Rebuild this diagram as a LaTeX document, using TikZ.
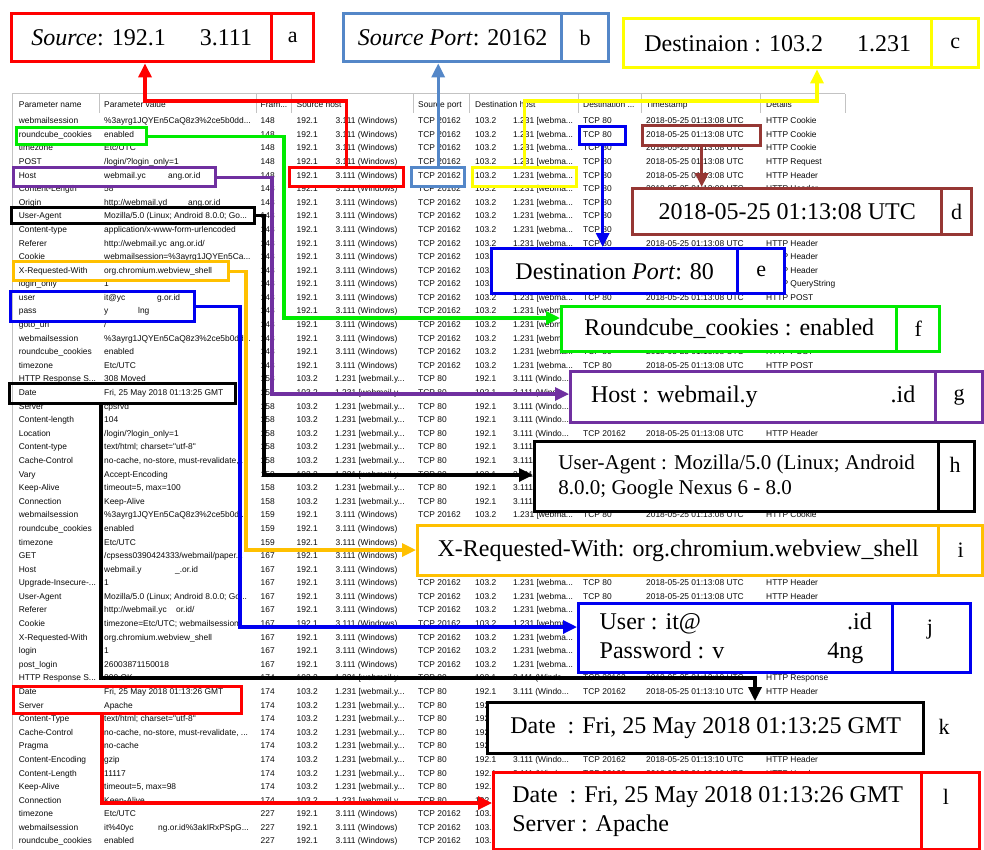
\documentclass[tikz,border=0pt]{standalone}
\usepackage{fontspec}
\setmainfont{Liberation Serif}
\newfontfamily\tabfont{Liberation Sans}
\usetikzlibrary{arrows.meta}
\definecolor{cred}{RGB}{255,0,0}
\definecolor{csteel}{RGB}{84,135,200}
\definecolor{cyel}{RGB}{255,255,0}
\definecolor{cbrown}{RGB}{150,55,52}
\definecolor{cblue}{RGB}{0,0,240}
\definecolor{cgreen}{RGB}{0,235,0}
\definecolor{cpurple}{RGB}{112,48,160}
\definecolor{corange}{RGB}{255,192,0}
\definecolor{tabtext}{RGB}{10,10,10}
\definecolor{gridgray}{RGB}{195,195,195}
\tikzset{
 tc/.style={anchor=base west, inner sep=0pt, font=\tabfont\fontsize{8.4}{9}\selectfont, text=tabtext},
 hl/.style={draw=#1, line width=3.4pt, inner sep=0pt, anchor=north west},
 cbox/.style={draw=#1, line width=3.4pt, fill=white, inner sep=0pt, anchor=north west, font=\fontsize{24}{29}\selectfont},
 lett/.style={inner sep=0pt, font=\fontsize{22}{26}\selectfont},
 conn/.style={draw=#1, line width=3.2pt, -{Triangle[length=14pt,width=13pt]}},
}
\newcommand\TA{2018-05-25 01:13:08 UTC}
\newcommand\TB{2018-05-25 01:13:10 UTC}
\newcommand\RC[6]{%
 \pgfmathsetmacro\yb{123.7+(#1-1)*13.59}
 \node[tc] (pn#1) at (18.7,\yb) {#2};
 \node[tc] (pv#1) at (104,\yb) {#3};
 \node[tc] (fr#1) at (260.5,\yb) {#4};
 \node[tc] (sa#1) at (296.5,\yb) {192.1};
 \node[tc] (sb#1) at (335.5,\yb) {3.111 (Windows)};
 \node[tc] (sp#1) at (418,\yb) {TCP 20162};
 \node[tc] (da#1) at (475,\yb) {103.2};
 \node[tc] (db#1) at (513,\yb) {1.231 [webma...};
 \node[tc] (dp#1) at (583,\yb) {TCP 80};
 \node[tc] (ts#1) at (646,\yb) {#5};
 \node[tc] (dt#1) at (766,\yb) {#6};
}
\newcommand\RS[6]{%
 \pgfmathsetmacro\yb{123.7+(#1-1)*13.59}
 \node[tc] (pn#1) at (18.7,\yb) {#2};
 \node[tc] (pv#1) at (104,\yb) {#3};
 \node[tc] (fr#1) at (260.5,\yb) {#4};
 \node[tc] (sa#1) at (296.5,\yb) {103.2};
 \node[tc] (sb#1) at (335,\yb) {1.231 [webmail.y...};
 \node[tc] (sp#1) at (418,\yb) {TCP 80};
 \node[tc] (da#1) at (475,\yb) {192.1};
 \node[tc] (db#1) at (513,\yb) {3.111 (Windo...};
 \node[tc] (dp#1) at (583,\yb) {TCP 20162};
 \node[tc] (ts#1) at (646,\yb) {#5};
 \node[tc] (dt#1) at (766,\yb) {#6};
}
\newcommand\XT[3]{%
 \pgfmathsetmacro\yb{123.7+(#1-1)*13.59}
 \node[tc] (px#1) at (#2,\yb) {#3};
}
\begin{document}
\begin{tikzpicture}[x=1pt,y=-1pt]
\useasboundingbox[fill=white] (0,0) rectangle (984,849);
% table frame
\draw[gridgray, line width=0.8pt] (12,849) -- (12,93) -- (845,93);
\foreach \sx in {99,256,291,413,469,578,641,760,845}
  \draw[gridgray, line width=0.6pt] (\sx,94) -- (\sx,113);
\node[tc] (h1) at (18.7,107) {Parameter name};
\node[tc] (h2) at (104,107) {Parameter value};
\node[tc] (h3) at (260.5,107) {Fram...};
\node[tc] (h4) at (296.5,107) {Source host};
\node[tc] (h5) at (418,107) {Source port};
\node[tc] (h6) at (475,107) {Destination host};
\node[tc] (h7) at (583,107) {Destination ...};
\node[tc] (h8) at (646,107) {Timestamp};
\node[tc] (h9) at (766,107) {Details};
% rows
\RC{1}{webmailsession}{\%3ayrg1JQYEn5CaQ8z3\%2ce5b0dd...}{148}{\TA}{HTTP Cookie}
\RC{2}{roundcube\_cookies}{enabled}{148}{\TA}{HTTP Cookie}
\RC{3}{timezone}{Etc/UTC}{148}{\TA}{HTTP Cookie}
\RC{4}{POST}{/login/?login\_only=1}{148}{\TA}{HTTP Request}
\RC{5}{Host}{webmail.yc}{148}{\TA}{HTTP Header}
\XT{5}{168}{ang.or.id}
\RC{6}{Content-Length}{58}{148}{\TA}{HTTP Header}
\RC{7}{Origin}{http://webmail.yd}{148}{\TA}{HTTP Header}
\XT{7}{188}{ang.or.id}
\RC{8}{User-Agent}{Mozilla/5.0 (Linux; Android 8.0.0; Go...}{148}{\TA}{HTTP Header}
\RC{9}{Content-type}{application/x-www-form-urlencoded}{148}{\TA}{HTTP Header}
\RC{10}{Referer}{http://webmail.yc}{148}{\TA}{HTTP Header}
\XT{10}{170}{ang.or.id/}
\RC{11}{Cookie}{webmailsession=\%3ayrg1JQYEn5Ca...}{148}{\TA}{HTTP Header}
\RC{12}{X-Requested-With}{org.chromium.webview\_shell}{148}{\TA}{HTTP Header}
\RC{13}{login\_only}{1}{148}{\TA}{HTTP QueryString}
\RC{14}{user}{it@yc}{148}{\TA}{HTTP POST}
\XT{14}{157}{g.or.id}
\RC{15}{pass}{y}{148}{\TA}{HTTP POST}
\XT{15}{138}{lng}
\RC{16}{goto\_uri}{/}{148}{\TA}{HTTP POST}
\RC{17}{webmailsession}{\%3ayrg1JQYEn5CaQ8z3\%2ce5b0dd...}{148}{\TA}{HTTP POST}
\RC{18}{roundcube\_cookies}{enabled}{148}{\TA}{HTTP POST}
\RC{19}{timezone}{Etc/UTC}{148}{\TA}{HTTP POST}
\RS{20}{HTTP Response S...}{308 Moved}{158}{\TA}{HTTP Response}
\RS{21}{Date}{Fri, 25 May 2018 01:13:25 GMT}{158}{\TA}{HTTP Header}
\RS{22}{Server}{cpsrvd}{158}{\TA}{HTTP Header}
\RS{23}{Content-length}{104}{158}{\TA}{HTTP Header}
\RS{24}{Location}{/login/?login\_only=1}{158}{\TA}{HTTP Header}
\RS{25}{Content-type}{text/html; charset="utf-8"}{158}{\TA}{HTTP Header}
\RS{26}{Cache-Control}{no-cache, no-store, must-revalidate,...}{158}{\TA}{HTTP Header}
\RS{27}{Vary}{Accept-Encoding}{158}{\TA}{HTTP Header}
\RS{28}{Keep-Alive}{timeout=5, max=100}{158}{\TA}{HTTP Header}
\RS{29}{Connection}{Keep-Alive}{158}{\TA}{HTTP Header}
\RC{30}{webmailsession}{\%3ayrg1JQYEn5CaQ8z3\%2ce5b0d...}{159}{\TA}{HTTP Cookie}
\RC{31}{roundcube\_cookies}{enabled}{159}{\TA}{HTTP Cookie}
\RC{32}{timezone}{Etc/UTC}{159}{\TA}{HTTP Cookie}
\RC{33}{GET}{/cpsess0390424333/webmail/paper...}{167}{\TA}{HTTP Request}
\RC{34}{Host}{webmail.y}{167}{\TA}{HTTP Header}
\XT{34}{175}{\_.or.id}
\RC{35}{Upgrade-Insecure-...}{1}{167}{\TA}{HTTP Header}
\RC{36}{User-Agent}{Mozilla/5.0 (Linux; Android 8.0.0; Go...}{167}{\TA}{HTTP Header}
\RC{37}{Referer}{http://webmail.yc}{167}{\TA}{HTTP Header}
\XT{37}{176}{or.id/}
\RC{38}{Cookie}{timezone=Etc/UTC; webmailsession...}{167}{\TA}{HTTP Header}
\RC{39}{X-Requested-With}{org.chromium.webview\_shell}{167}{\TA}{HTTP Header}
\RC{40}{login}{1}{167}{\TA}{HTTP Header}
\RC{41}{post\_login}{26003871150018}{167}{\TA}{HTTP Header}
\RS{42}{HTTP Response S...}{200 OK}{174}{\TB}{HTTP Response}
\RS{43}{Date}{Fri, 25 May 2018 01:13:26 GMT}{174}{\TB}{HTTP Header}
\RS{44}{Server}{Apache}{174}{\TB}{HTTP Header}
\RS{45}{Content-Type}{text/html; charset="utf-8"}{174}{\TB}{HTTP Header}
\RS{46}{Cache-Control}{no-cache, no-store, must-revalidate, ...}{174}{\TB}{HTTP Header}
\RS{47}{Pragma}{no-cache}{174}{\TB}{HTTP Header}
\RS{48}{Content-Encoding}{gzip}{174}{\TB}{HTTP Header}
\RS{49}{Content-Length}{11117}{174}{\TB}{HTTP Header}
\RS{50}{Keep-Alive}{timeout=5, max=98}{174}{\TB}{HTTP Header}
\RS{51}{Connection}{Keep-Alive}{174}{\TB}{HTTP Header}
\RC{52}{timezone}{Etc/UTC}{227}{2018-05-25 01:13:16 UTC}{HTTP Cookie}
\RC{53}{webmailsession}{it\%40yc}{227}{2018-05-25 01:13:16 UTC}{HTTP Cookie}
\XT{53}{158}{ng.or.id\%3akIRxPSpG...}
\RC{54}{roundcube\_cookies}{enabled}{227}{2018-05-25 01:13:16 UTC}{HTTP Cookie}
% highlights
\node[hl=cgreen, minimum width=130pt, minimum height=17pt] (hRC) at (15,126) {};
\node[hl=cpurple, minimum width=202pt, minimum height=19pt] (hHO) at (12,166) {};
\node[hl=cred, minimum width=114pt, minimum height=19pt] (hSH) at (288,166) {};
\node[hl=csteel, minimum width=53pt, minimum height=19pt] (hSP) at (410,166) {};
\node[hl=cyel, minimum width=104pt, minimum height=19pt] (hDH) at (471,166) {};
\node[hl=cblue, minimum width=46pt, minimum height=18pt] (hDP) at (578,125) {};
\node[hl=cbrown, minimum width=118pt, minimum height=20pt] (hTS) at (641,124) {};
\node[hl=black, minimum width=243pt, minimum height=16pt] (hUA) at (10,206) {};
\node[hl=corange, minimum width=215pt, minimum height=19pt] (hXR) at (12,260) {};
\node[hl=cblue, minimum width=184pt, minimum height=30pt] (hUP) at (9,290) {};
\node[hl=black, minimum width=226pt, minimum height=20pt] (hD1) at (8,382) {};
\node[hl=cred, minimum width=228pt, minimum height=27pt] (hD2) at (12,685) {};
% callout boxes
\node[cbox=cred, minimum width=260pt, minimum height=48pt] (a) at (10,12) {\textit{Source}: 192.1\hspace{34pt}3.111};
\node[cbox=cred, minimum width=42pt, minimum height=48pt] (aL) at (270,12) {};
\node[lett] (aT) at (aL.center) {a};
\node[cbox=csteel, minimum width=218pt, minimum height=48pt] (b) at (342,12) {\textit{Source Port}: 20162};
\node[cbox=csteel, minimum width=47pt, minimum height=48pt] (bL) at (560,12) {};
\node[lett] (bT) at (bL.center) {b};
\node[cbox=cyel, minimum width=308pt, minimum height=49pt] (c) at (622,17) {Destinaion : 103.2\hspace{34pt}1.231};
\node[cbox=cyel, minimum width=47pt, minimum height=49pt] (cL) at (930,17) {};
\node[lett] (cT) at (cL.center) {c};
\node[cbox=cbrown, minimum width=309pt, minimum height=46pt] (d) at (631,187) {2018-05-25 01:13:08 UTC};
\node[cbox=cbrown, minimum width=30pt, minimum height=46pt] (dL) at (940,187) {};
\node[lett] (dT) at (dL.center) {d};
\node[cbox=cblue, minimum width=246pt, minimum height=45pt] (e) at (490,247) {Destination \textit{Port}: 80};
\node[cbox=cblue, minimum width=47pt, minimum height=45pt] (eL) at (736,247) {};
\node[lett] (eT) at (eL.center) {e};
\node[cbox=cgreen, minimum width=335pt, minimum height=45pt] (f) at (560,305) {Roundcube\_cookies : enabled};
\node[cbox=cgreen, minimum width=43pt, minimum height=45pt] (fL) at (895,305) {};
\node[lett] (fT) at (fL.center) {f};
\node[cbox=cpurple, minimum width=365pt, minimum height=51pt] (g) at (569,370) {Host : webmail.y\hspace{133pt}.id};
\node[cbox=cpurple, minimum width=47pt, minimum height=51pt] (gL) at (934,370) {};
\node[lett] (gT) at (gL.center) {g};
\node[cbox=black, minimum width=404pt, minimum height=70pt, align=left, font=\fontsize{21}{25}\selectfont] (h) at (533,440) {User-Agent : Mozilla/5.0 (Linux; Android\\8.0.0; Google Nexus 6 - 8.0};
\node[cbox=black, minimum width=36pt, minimum height=70pt] (hL) at (937,440) {};
\node[lett] (hT) at (955,465) {h};
\node[cbox=corange, minimum width=521pt, minimum height=50pt] (i) at (416,524) {X-Requested-With: org.chromium.webview\_shell};
\node[cbox=corange, minimum width=44pt, minimum height=50pt] (iL) at (937,524) {};
\node[lett] (iT) at (iL.center) {i};
\node[cbox=cblue, minimum width=314pt, minimum height=69pt, align=left] (j) at (577,602) {User : it@\hspace{146pt}.id\\Password : v\hspace{103pt}4ng};
\node[cbox=cblue, minimum width=78pt, minimum height=69pt] (jL) at (891,602) {};
\node[lett] (jT) at (930,630) {j};
\node[cbox=black, minimum width=436pt, minimum height=51pt] (k) at (486,701) {Date\ \ : Fri, 25 May 2018 01:13:25 GMT};
\node[lett] (kT) at (944,727) {k};
\node[cbox=cred, minimum width=428pt, minimum height=77pt, align=left] (l) at (492,771) {Date\ \ : Fri, 25 May 2018 01:13:26 GMT\\Server : Apache};
\node[cbox=cred, minimum width=58pt, minimum height=77pt] (lL) at (920,771) {};
\node[lett] (lT) at (946,797) {l};
% bends
\coordinate (abend) at (145,101);
\coordinate (cbend) at (817,101);
\coordinate (fbend) at (284,318);
\coordinate (gbend) at (272,394);
\coordinate (hbend) at (264,475);
\coordinate (ibend) at (246,550);
\coordinate (jbend) at (240,627);
\coordinate (kb1) at (101,678);
\coordinate (kb2) at (755,678);
\coordinate (lb1) at (102,803);
% connectors
\draw[conn=cred] (hSH.north) |- (abend) -- (a.south -| abend);
\draw[conn=csteel] (hSP.north) -- (b.south -| hSP.north);
\draw[conn=cyel] (hDH.north) |- (cbend) -- (c.south -| cbend);
\draw[conn=cblue] (hDP.south) -- (e.north -| hDP.south);
\draw[conn=cbrown] (hTS.south) -- (d.north -| hTS.south);
\draw[conn=cgreen] (hRC.east) -| (fbend) -- (f.west |- fbend);
\draw[conn=cpurple] (hHO.east) -| (gbend) -- (g.west |- gbend);
\draw[conn=black] (hUA.east) -| (hbend) -- (h.west |- hbend);
\draw[conn=corange] (hXR.east) -| (ibend) -- (i.west |- ibend);
\draw[conn=cblue] (hUP.east) -| (jbend) -- (j.west |- jbend);
\draw[conn=black] (hD1.south -| kb1) -- (kb1) -- (kb2) -- (k.north -| kb2);
\draw[conn=cred] (hD2.south -| lb1) -- (lb1) -- (l.west |- lb1);
\end{tikzpicture}
\end{document}
